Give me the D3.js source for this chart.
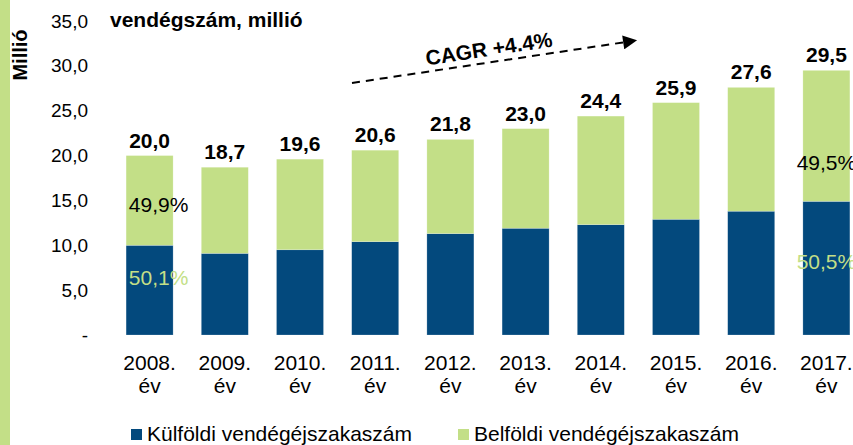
<!DOCTYPE html>
<html>
<head>
<meta charset="utf-8">
<script src="https://cdn.jsdelivr.net/npm/d3@7"></script>
<style>
  body { margin: 0; background: #fff; }
  text { font-family: "Liberation Sans", Arial, sans-serif; }
</style>
</head>
<body>
<svg class="chart"></svg>
<script>
const years = ["2008.", "2009.", "2010.", "2011.", "2012.", "2013.", "2014.", "2015.", "2016.", "2017."]
const totals = [20.0, 18.7, 19.6, 20.6, 21.8, 23.0, 24.4, 25.9, 27.6, 29.5]//vendégszám összesen
const kulfoldi = [10.0, 9.1, 9.5, 10.4, 11.3, 11.9, 12.3, 12.9, 13.8, 14.9]
const belfoldi = totals.map((t, i) => +(t - kulfoldi[i]).toFixed(1))
const yTicks = [0, 5, 10, 15, 20, 25, 30, 35]
const pctYears = ["2008.", "2017."]
const pctKulfoldi = ["50,1%", "50,5%"]
const pctBelfoldi = ["49,9%", "49,5%"]
const seriesNames = ["Külföldi vendégéjszakaszám", "Belföldi vendégéjszakaszám"]

const width = 853, height = 445
const blue = "#03497d", green = "#c3df87"
const comma = d => d3.format(".1f")(d).replace(".", ",")

let svg = d3.select(".chart")
    .attr("width", width)
    .attr("height", height)

svg.append("rect")//green strip on the left edge
    .attr("x", 0).attr("y", 0)
    .attr("width", 10).attr("height", height)
    .attr("fill", green)

let x = d3.scaleBand()
    .domain(years)
    .range([112, 864])
    .paddingInner(0.375)
    .paddingOuter(0.1875)
let y = d3.scaleLinear()
    .domain([0, 35])
    .range([335, 21])

let rows = years.map((yr, i) => ({year: yr, kulf: kulfoldi[i], bel: belfoldi[i], total: totals[i]}))
let stack = d3.stack().keys(["kulf", "bel"])(rows)

svg.append("g")
  .selectAll("g")
  .data(stack)
  .enter().append("g")
    .attr("fill", (d, i) => i === 0 ? blue : green)
  .selectAll("rect")
  .data(d => d)
  .enter().append("rect")
    .attr("x", d => x(d.data.year))
    .attr("y", d => y(d[1]))
    .attr("width", x.bandwidth())
    .attr("height", d => y(d[0]) - y(d[1]))
    .attr("stroke", "#fff")
    .attr("stroke-opacity", 0.35)
    .attr("stroke-width", 0.6)

//y axis: labels only, no line and no ticks
let yAxis = d3.axisLeft(y)
    .tickValues(yTicks)
    .tickSize(0)
    .tickPadding(0)
    .tickFormat(d => d === 0 ? "-" : comma(d))
let yG = svg.append("g")
    .attr("transform", "translate(88,0)")
    .call(yAxis)
yG.select(".domain").remove()
yG.selectAll("text")
    .style("font-family", "Liberation Sans, Arial, sans-serif")
    .style("font-size", "19px")
    .attr("fill", "#000")

//x axis: two line labels
let xAxis = d3.axisBottom(x).tickSize(0).tickFormat("")
let xG = svg.append("g")
    .attr("transform", "translate(0,335)")
    .call(xAxis)
xG.select(".domain").remove()
xG.selectAll(".tick").append("text")
    .attr("y", 35)
    .attr("text-anchor", "middle")
    .style("font-size", "21px")
    .attr("fill", "#000")
    .text(d => d)
xG.selectAll(".tick").append("text")
    .attr("y", 58)
    .attr("text-anchor", "middle")
    .style("font-size", "21px")
    .attr("fill", "#000")
    .text("év")

//totals above the bars
svg.append("g")
  .selectAll("text")
  .data(rows)
  .enter().append("text")
    .attr("x", d => x(d.year) + x.bandwidth() / 2)
    .attr("y", d => y(d.total) - 8)
    .attr("text-anchor", "middle")
    .style("font-size", "21px")
    .style("font-weight", "bold")
    .text(d => comma(d.total))

//share labels on first and last bar
let pctPlace = [{dx: 9, fBel: 0.63, fKulf: 0.44}, {dx: 0, fBel: 0.76, fKulf: 0.51}]
pctYears.forEach(function(yr, k) {
  let r = rows[years.indexOf(yr)]
  let cx = x(yr) + x.bandwidth() / 2 + pctPlace[k].dx
  svg.append("text")
      .attr("x", cx)
      .attr("y", y(r.total) + (y(r.kulf) - y(r.total)) * pctPlace[k].fBel)
      .attr("text-anchor", "middle")
      .style("font-size", "21px")
      .attr("fill", "#000")
      .text(pctBelfoldi[k])
  svg.append("text")
      .attr("x", cx)
      .attr("y", y(r.kulf) + (y(0) - y(r.kulf)) * pctPlace[k].fKulf)
      .attr("text-anchor", "middle")
      .style("font-size", "21px")
      .attr("fill", green)
      .text(pctKulfoldi[k])
})

//titles
svg.append("text")
    .attr("x", 110)
    .attr("y", 27)
    .style("font-size", "21px")
    .style("font-weight", "bold")
    .text("vendégszám, millió")
svg.append("text")
    .attr("transform", "translate(27,55) rotate(-90)")
    .attr("text-anchor", "middle")
    .style("font-size", "20px")
    .style("font-weight", "bold")
    .text("Millió")

//CAGR arrow
svg.append("defs").append("marker")
    .attr("id", "head")
    .attr("viewBox", "0 0 10 10")
    .attr("refX", 2).attr("refY", 5)
    .attr("markerWidth", 8).attr("markerHeight", 7)
    .attr("markerUnits", "strokeWidth")
    .attr("orient", "auto")
  .append("path")
    .attr("d", "M0,0 L10,5 L0,10 Z")
    .attr("fill", "#000")
svg.append("line")
    .attr("x1", 352).attr("y1", 83)
    .attr("x2", 626).attr("y2", 42)
    .attr("stroke", "#000")
    .attr("stroke-width", 2)
    .attr("stroke-dasharray", "8,6")
    .attr("marker-end", "url(#head)")
svg.append("text")
    .attr("transform", "translate(490,56) rotate(-8.6)")
    .attr("text-anchor", "middle")
    .style("font-size", "21px")
    .style("font-weight", "bold")
    .text("CAGR +4.4%")

//legend
let legend = svg.append("g")
  .selectAll("g")
  .data(seriesNames)
  .enter().append("g")
    .attr("transform", (d, i) => "translate(" + (i === 0 ? 131 : 458) + ",0)")
legend.append("rect")
    .attr("y", 429)
    .attr("width", 11).attr("height", 11)
    .attr("fill", (d, i) => i === 0 ? blue : green)
legend.append("text")
    .attr("x", 16)
    .attr("y", 441)
    .style("font-size", "21px")
    .text(d => d)
</script>
</body>
</html>
